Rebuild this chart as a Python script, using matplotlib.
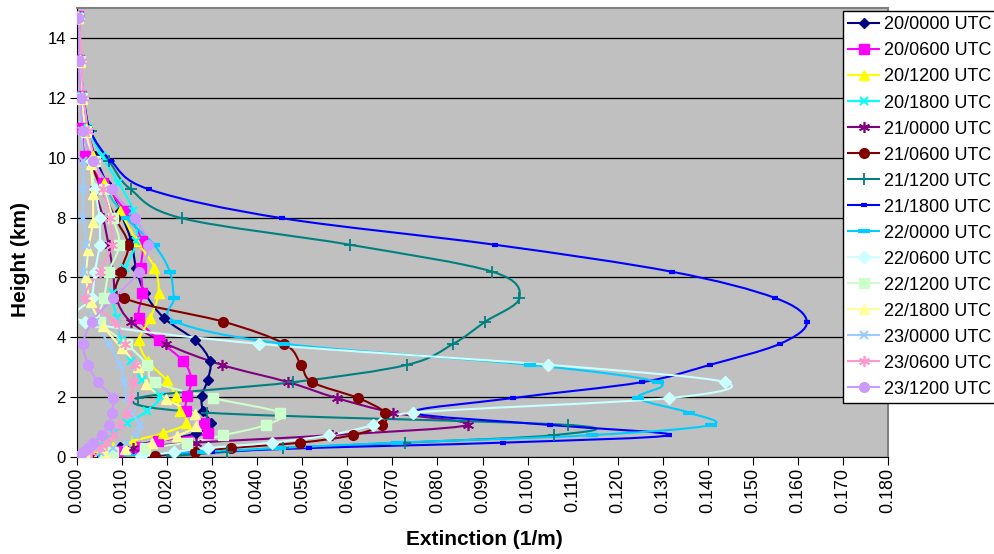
import numpy as np
import matplotlib
matplotlib.use('Agg')
import matplotlib.pyplot as plt
from matplotlib.path import Path
from matplotlib.patches import PathPatch
from matplotlib.lines import Line2D

plt.rcParams['font.family'] = ['Liberation Sans', 'DejaVu Sans']

# heights (km), bottom to top
heights_day20 = [0.03, 0.20, 0.34, 0.53, 0.79, 1.12, 1.53, 2.03, 2.57, 3.20, 3.90,
                 4.63, 5.47, 6.33, 7.23, 8.22, 9.17, 10.06, 11.00, 12.05, 13.25, 14.72]
heights_mid = [0.03, 0.17, 0.30, 0.48, 0.73, 1.07, 1.48, 1.97, 2.50, 3.08, 3.78,
               4.52, 5.31, 6.19, 7.09, 7.98, 8.94, 9.90, 10.88, 11.98, 13.22, 14.68]
heights_late = [0.03, 0.15, 0.28, 0.46, 0.70, 1.04, 1.44, 1.93, 2.44, 3.02, 3.65,
                4.38, 5.18, 6.00, 6.92, 7.85, 8.78, 9.80, 10.85, 11.96, 13.20, 14.68]

labels = ["20/0000 UTC", "20/0600 UTC", "20/1200 UTC", "20/1800 UTC",
          "21/0000 UTC", "21/0600 UTC", "21/1200 UTC", "21/1800 UTC",
          "22/0000 UTC", "22/0600 UTC", "22/1200 UTC", "22/1800 UTC",
          "23/0000 UTC", "23/0600 UTC", "23/1200 UTC"]

ext_20_00 = [0.001, 0.005, 0.0095, 0.018, 0.0264, 0.0297, 0.028, 0.0277, 0.029, 0.0295, 0.0262,
             0.0194, 0.0151, 0.0131, 0.012, 0.0095, 0.0065, 0.004, 0.0022, 0.0012, 0.0007, 0.0004]
ext_20_06 = [0.002, 0.0092, 0.013, 0.0179, 0.0291, 0.0282, 0.0243, 0.0245, 0.0254, 0.0236, 0.0182,
             0.0138, 0.0145, 0.0142, 0.0144, 0.0107, 0.0057, 0.0018, 0.0012, 0.0008, 0.0005, 0.0003]
ext_20_12 = [0.001, 0.004, 0.008, 0.0121, 0.0190, 0.0243, 0.0229, 0.0219, 0.0199, 0.0157, 0.0138,
             0.0162, 0.0181, 0.0172, 0.0132, 0.0095, 0.006, 0.0035, 0.002, 0.001, 0.0006, 0.0003]
ext_20_18 = [0.001, 0.003, 0.0045, 0.006, 0.0081, 0.011, 0.0155, 0.0184, 0.0145, 0.012, 0.0099,
             0.0088, 0.008, 0.0107, 0.0132, 0.0125, 0.0092, 0.0055, 0.0025, 0.0012, 0.0007, 0.0004]
ext_21_00 = [0.003, 0.008, 0.0125, 0.0264, 0.0565, 0.0868, 0.0702, 0.0576, 0.0469, 0.0321, 0.0198,
             0.0119, 0.0087, 0.008, 0.007, 0.0058, 0.004, 0.003, 0.002, 0.001, 0.0006, 0.0003]
ext_21_06 = [0.0173, 0.0262, 0.0341, 0.0496, 0.0612, 0.0676, 0.0684, 0.0624, 0.0522, 0.0497, 0.046,
             0.0325, 0.0105, 0.0098, 0.0114, 0.0085, 0.0055, 0.003, 0.002, 0.001, 0.0006, 0.0003]
ext_21_12 = [0.021, 0.0332, 0.0458, 0.0728, 0.1059, 0.109, 0.0288, 0.0136, 0.048, 0.0733, 0.0835,
             0.0906, 0.0982, 0.0922, 0.0606, 0.0232, 0.0119, 0.0071, 0.003, 0.0015, 0.0008, 0.0004]
ext_21_18 = [0.005, 0.03, 0.0515, 0.0945, 0.1315, 0.105, 0.0746, 0.0968, 0.1254, 0.1405, 0.156,
             0.162, 0.155, 0.132, 0.0928, 0.0454, 0.016, 0.0075, 0.003, 0.0015, 0.0008, 0.0004]
ext_22_00 = [0.006, 0.028, 0.045, 0.071, 0.1142, 0.1408, 0.1359, 0.1246, 0.129, 0.1005, 0.046,
             0.0219, 0.0215, 0.0206, 0.0171, 0.011, 0.0065, 0.004, 0.002, 0.001, 0.0006, 0.0003]
ext_22_06 = [0.0141, 0.0216, 0.029, 0.0432, 0.056, 0.0658, 0.0746, 0.1315, 0.1438, 0.1046, 0.0405,
             0.0018, 0.0033, 0.004, 0.005, 0.005, 0.004, 0.003, 0.002, 0.001, 0.0006, 0.0003]
ext_22_12 = [0.002, 0.008, 0.015, 0.0245, 0.0325, 0.0419, 0.0451, 0.0301, 0.0173, 0.0156, 0.011,
             0.0051, 0.006, 0.0071, 0.0094, 0.008, 0.006, 0.004, 0.002, 0.001, 0.0006, 0.0003]
ext_22_18 = [0.002, 0.006, 0.0107, 0.0166, 0.0221, 0.0265, 0.0262, 0.0198, 0.0153, 0.0136, 0.0099,
             0.0058, 0.003, 0.0021, 0.0025, 0.0035, 0.0035, 0.003, 0.002, 0.001, 0.0006, 0.0003]
ext_23_00 = [0.001, 0.005, 0.008, 0.011, 0.013, 0.014, 0.0121, 0.011, 0.0105, 0.0095, 0.007,
             0.004, 0.0018, 0.0015, 0.0021, 0.0014, 0.0014, 0.0014, 0.001, 0.0008, 0.0005, 0.0003]
ext_23_06 = [0.001, 0.003, 0.005, 0.0065, 0.0081, 0.0095, 0.011, 0.012, 0.0125, 0.0129, 0.0107,
             0.0084, 0.0018, 0.005, 0.0077, 0.0073, 0.0058, 0.004, 0.0025, 0.0015, 0.001, 0.0005]
ext_23_12 = [0.0003, 0.0014, 0.0025, 0.0036, 0.0055, 0.007, 0.0077, 0.0079, 0.0047, 0.0025, 0.0014,
             0.0033, 0.0081, 0.0138, 0.0158, 0.0129, 0.0077, 0.0036, 0.0014, 0.0008, 0.0005, 0.0003]

series = [ext_20_00, ext_20_06, ext_20_12, ext_20_18, ext_21_00, ext_21_06, ext_21_12,
          ext_21_18, ext_22_00, ext_22_06, ext_22_12, ext_22_18, ext_23_00, ext_23_06, ext_23_12]
series_heights = [heights_day20] * 4 + [heights_mid] * 7 + [heights_late] + [heights_mid] * 3

colors = ['#000080', '#FF00FF', '#FFFF00', '#00FFFF', '#800080', '#800000', '#008080',
          '#0000FF', '#00CCFF', '#CCFFFF', '#CCFFCC', '#FFFF99', '#99CCFF', '#FF99CC', '#CC99FF']
star = (6, 2, 0)
markers = ['D', 's', '^', 'x', star, 'o', '+', '_', '_', 'D', 's', '^', 'x', star, 'o']
msizes = [5.5, 6.5, 7, 6, 8, 7, 8, 5, 8, 6, 6.5, 7, 6, 8, 7]
mews = [1, 1, 1, 1.5, 1.2, 1, 1.3, 3, 3, 1, 1, 1, 1.5, 1.2, 1]


def smooth_path(x, y):
    # excel-like smoothed line (catmull-rom through the points)
    pts = np.column_stack([x, y])
    n = len(pts)
    verts = [pts[0]]
    codes = [Path.MOVETO]
    for i in range(n - 1):
        p0 = pts[i - 1] if i > 0 else pts[i]
        p1 = pts[i]
        p2 = pts[i + 1]
        p3 = pts[i + 2] if i + 2 < n else pts[i + 1]
        verts += [p1 + (p2 - p0) / 6.0, p2 - (p3 - p1) / 6.0, p2]
        codes += [Path.CURVE4] * 3
    return Path(verts, codes)


fig = plt.figure(figsize=(9.95, 5.54), dpi=100)
ax = fig.add_axes([77 / 995, 97 / 554, 811 / 995, 449 / 554])
ax.set_facecolor('#C0C0C0')

handles = []
for vals, hts, col, mk, ms, mw, lab in zip(series, series_heights, colors, markers,
                                            msizes, mews, labels):
    ax.add_patch(PathPatch(smooth_path(vals, hts), facecolor='none', edgecolor=col,
                           lw=1.5, zorder=2))
    ax.plot(vals, hts, linestyle='none', marker=mk, ms=ms, color=col, mec=col,
            mew=mw, zorder=3)
    handles.append(Line2D([], [], color=col, lw=1.5, marker=mk, ms=ms, mec=col, mew=mw))

ax.set_xlim(0, 0.18)
ax.set_ylim(0, 15)
ax.set_xticks(np.arange(0, 0.1801, 0.01))
ax.set_xticklabels(['%.3f' % v for v in np.arange(0, 0.1801, 0.01)], rotation=90, fontsize=13)
ax.set_yticks(range(0, 15, 2))
ax.tick_params(axis='y', labelsize=12, length=5, pad=3)
ax.tick_params(axis='x', length=6, pad=2)
ax.yaxis.grid(True, color='black', lw=0.9)
ax.set_axisbelow(True)

for side in ['top', 'right']:
    ax.spines[side].set_color('#808080')
    ax.spines[side].set_linewidth(1.5)

ax.set_xlabel('Extinction (1/m)', fontsize=15, fontweight='bold')
ax.set_ylabel('Height (km)', fontsize=15, fontweight='bold')
ax.xaxis.set_label_coords(0.502, -0.162)
ax.yaxis.set_label_coords(-0.058, 0.439)

leg = fig.legend(handles, labels, loc='upper left', bbox_to_anchor=(843 / 995, 543 / 554),
                 fontsize=13, frameon=True, fancybox=False, edgecolor='black',
                 framealpha=1, borderpad=0.3, labelspacing=0.5, handlelength=1.7,
                 handletextpad=0.25, borderaxespad=0)
leg.get_frame().set_linewidth(1.0)

plt.savefig('out.png', dpi=100)
